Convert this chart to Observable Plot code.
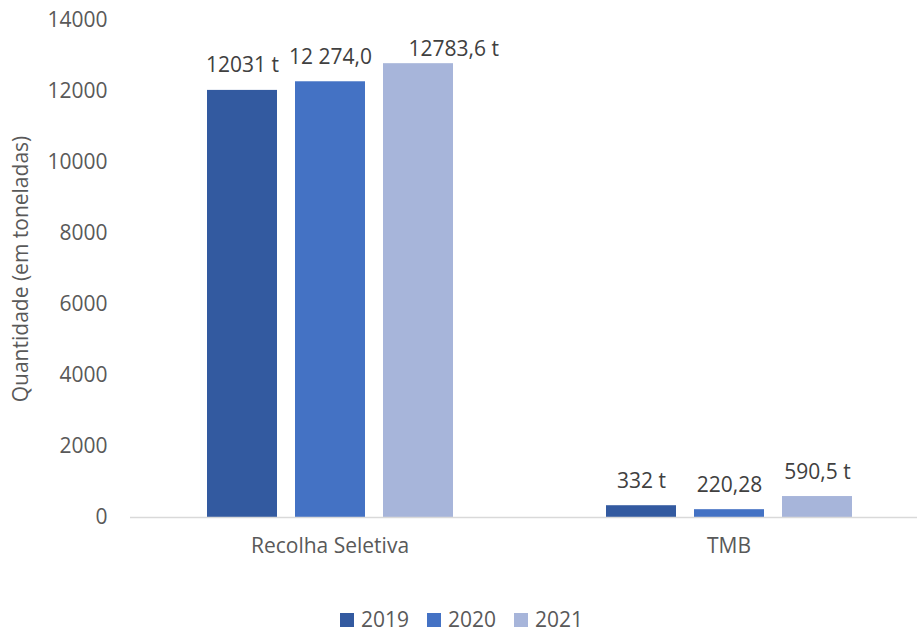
<!DOCTYPE html>
<html>
<head>
<meta charset="utf-8">
<script src="https://cdn.jsdelivr.net/npm/d3@7"></script>
<script src="https://cdn.jsdelivr.net/npm/@observablehq/plot@0.6"></script>
<style>
  html, body { margin: 0; padding: 0; background: #fff; overflow: hidden; }
  #legend { display: flex; justify-content: center; margin-top: 8px; margin-left: 6px; line-height: 1.1; }
</style>
</head>
<body>
<div id="chart"></div>
<div id="legend"></div>
<script>
const groups = ["Recolha Seletiva", "TMB"];
const years = ["2019", "2020", "2021"];
const recolhaValues = [12031, 12274, 12783.6];
const tmbValues = [332, 220.28, 590.5];
const recolhaLabels = ["12031 t", "12 274,0", "12783,6 t"];
const tmbLabels = ["332 t", "220,28", "590,5 t"];
const yTicks = [0, 2000, 4000, 6000, 8000, 10000, 12000, 14000];
const colors = ["#335AA0", "#4472C4", "#A7B5DA"];
const yLabel = "Quantidade (em toneladas)";

const data = [];
years.forEach((y, i) => data.push({group: groups[0], year: y, value: recolhaValues[i], label: recolhaLabels[i]}));
years.forEach((y, i) => data.push({group: groups[1], year: y, value: tmbValues[i], label: tmbLabels[i]}));

const font = "'Open Sans', sans-serif";
const fs = 21;
const clampMax = 12500; // labels are kept inside the plot area, as in the original
const fits = d => d.value <= clampMax;

const chart = Plot.plot({
  width: 917,
  height: 595,
  marginLeft: 130,
  marginRight: -11,
  marginTop: 20,
  marginBottom: 78,
  style: {fontFamily: font, fontSize: fs + "px", color: "#595959", background: "#fff"},
  fx: {domain: groups, padding: 0, label: null, axis: "bottom", tickSize: 0, tickPadding: 21},
  x: {domain: years, paddingInner: 0.21, paddingOuter: 0.86, axis: null},
  y: {domain: [0, 14000], ticks: yTicks, tickSize: 0, tickPadding: 23, label: null, tickFormat: d => String(d)},
  color: {domain: years, range: colors},
  marks: [
    Plot.barY(data, {fx: "group", x: "year", y: "value", fill: "year"}),
    Plot.ruleY([0], {stroke: "#d9d9d9", strokeWidth: 1.5}),
    Plot.text(data, {filter: fits, fx: "group", x: "year", y: "value", text: "label", lineAnchor: "bottom", dy: -18, fill: "#404040", fontSize: fs}),
    Plot.text(data, {filter: d => !fits(d), fx: "group", x: "year", y: () => clampMax, text: "label", lineAnchor: "bottom", textAnchor: "start", dx: -10, dy: -18, fill: "#404040", fontSize: fs}),
    Plot.text([yLabel], {fx: () => groups[0], frameAnchor: "left", textAnchor: "middle", rotate: -90, dx: -109, text: d => d, fill: "#595959", fontSize: fs})
  ]
});
document.getElementById("chart").appendChild(chart);

const legend = Plot.legend({
  color: {domain: years, range: colors},
  legend: "swatches",
  swatchSize: 14,
  style: {fontFamily: font, fontSize: fs + "px", color: "#595959"}
});
const items = legend.querySelectorAll("span");
items.forEach((s, i) => {
  s.style.marginRight = i === items.length - 1 ? "0px" : "18px";
  const sv = s.querySelector("svg");
  if (sv) sv.style.marginRight = "7px";
});
document.getElementById("legend").appendChild(legend);
</script>
</body>
</html>
